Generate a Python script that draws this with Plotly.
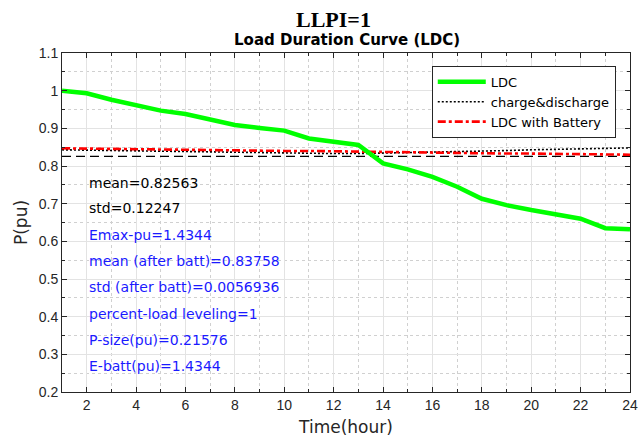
import plotly.graph_objects as go

hours = list(range(1, 25))
ldc = [1.000, 0.993, 0.976, 0.961, 0.947, 0.938, 0.925, 0.909, 0.901, 0.894,
       0.873, 0.864, 0.856, 0.807, 0.791, 0.771, 0.745, 0.713, 0.696, 0.683,
       0.671, 0.660, 0.635, 0.632]
charge_discharge = [0.843, 0.842, 0.842, 0.841, 0.840, 0.839, 0.838, 0.837, 0.836, 0.835,
                    0.834, 0.833, 0.833, 0.834, 0.835, 0.836, 0.838, 0.840, 0.841, 0.843,
                    0.844, 0.845, 0.847, 0.848]
ldc_batt = [0.847, 0.846, 0.845, 0.845, 0.844, 0.843, 0.842, 0.842, 0.841, 0.840,
            0.840, 0.839, 0.838, 0.837, 0.836, 0.835, 0.835, 0.834, 0.833, 0.833,
            0.832, 0.831, 0.831, 0.830]
mean_val = 0.82563
mean_line = [mean_val] * len(hours)

x_ticks = [2, 4, 6, 8, 10, 12, 14, 16, 18, 20, 22, 24]
y_ticks = [0.2, 0.3, 0.4, 0.5, 0.6, 0.7, 0.8, 0.9, 1.0, 1.1]
y_ticktext = ["0.2", "0.3", "0.4", "0.5", "0.6", "0.7", "0.8", "0.9", "1", "1.1"]

info_texts = ["mean=0.82563", "std=0.12247", "Emax-pu=1.4344", "mean (after batt)=0.83758",
              "std (after batt)=0.0056936", "percent-load leveling=1",
              "P-size(pu)=0.21576", "E-batt(pu)=1.4344"]
info_y = [0.755, 0.688, 0.618, 0.547, 0.478, 0.406, 0.339, 0.268]
info_colors = ["black", "black", "#1a1aff", "#1a1aff", "#1a1aff", "#1a1aff", "#1a1aff", "#1a1aff"]

SANS = "DejaVu Sans"

fig = go.Figure()
fig.add_trace(go.Scatter(x=hours, y=mean_line, mode="lines", showlegend=False,
                         line=dict(color="black", width=1.2, dash="9px,5px")))
fig.add_trace(go.Scatter(x=hours, y=charge_discharge, mode="lines", name="charge&discharge",
                         legendrank=2, line=dict(color="black", width=1.6, dash="2px,2px")))
fig.add_trace(go.Scatter(x=hours, y=ldc_batt, mode="lines", name="LDC with Battery",
                         legendrank=3, line=dict(color="red", width=2.6, dash="8px,3px,3px,3px")))
fig.add_trace(go.Scatter(x=hours, y=ldc, mode="lines", name="LDC",
                         legendrank=1, line=dict(color="#00ff00", width=4.5)))

for t, yv, c in zip(info_texts, info_y, info_colors):
    fig.add_annotation(x=2, y=yv, text=t, showarrow=False, xanchor="left", yanchor="middle",
                       font=dict(family=SANS, size=14, color=c))

fig.add_annotation(x=0.478, y=1.099, xref="paper", yref="paper", xanchor="center", yanchor="middle",
                   text="<b>LLPI=1</b>", showarrow=False,
                   font=dict(family="Liberation Serif, Times New Roman", size=22, color="black"))

axis_common = dict(showline=True, linecolor="#262626", linewidth=1, mirror="ticks",
                   ticks="inside", ticklen=5, tickcolor="#262626", automargin=False,
                   showgrid=True, gridcolor="#e3e3e3", gridwidth=1, zeroline=False,
                   tickfont=dict(family="Arial, Liberation Sans", size=14, color="#262626"))

fig.update_layout(
    width=638, height=437,
    margin=dict(l=62, r=8, t=53, b=45),
    paper_bgcolor="white", plot_bgcolor="white",
    title=dict(text="<b>Load Duration Curve (LDC)</b>", x=0.544, xanchor="center",
               y=1 - 39.5 / 437, yanchor="middle",
               font=dict(family=SANS, size=15, color="black")),
    xaxis=dict(range=[1, 24], tickvals=x_ticks,
               title=dict(text="Time(hour)", standoff=11,
                          font=dict(family=SANS, size=17, color="#262626")),
               minor=dict(dtick=1, tick0=1, showgrid=True, gridcolor="#d0d0d0", griddash="dot",
                          ticks="inside", ticklen=3, tickcolor="#262626"),
               **axis_common),
    yaxis=dict(range=[0.2, 1.1], tickvals=y_ticks, ticktext=y_ticktext,
               title=dict(text="P(pu)", standoff=6,
                          font=dict(family=SANS, size=17, color="#262626")),
               minor=dict(dtick=0.05, tick0=0.2, showgrid=True, gridcolor="#d0d0d0", griddash="dot",
                          ticks="inside", ticklen=3, tickcolor="#262626"),
               **axis_common),
    legend=dict(x=0.651, y=0.962, xanchor="left", yanchor="top",
                bgcolor="white", bordercolor="#262626", borderwidth=1,
                traceorder="normal",
                font=dict(family=SANS, size=13, color="black"),
                itemwidth=48, tracegroupgap=0),
)

fig.write_html("out.html")
